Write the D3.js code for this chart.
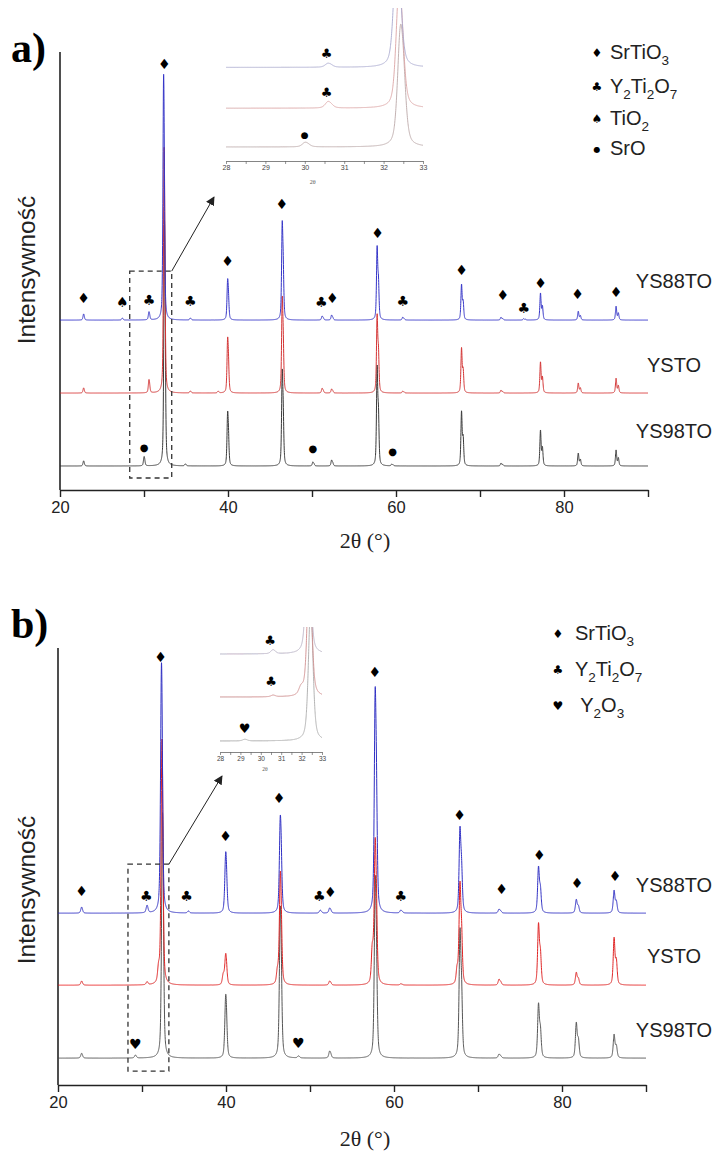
<!DOCTYPE html>
<html><head><meta charset="utf-8">
<script src="https://cdn.jsdelivr.net/npm/d3@7"></script>
<style>body{margin:0;background:#fff}svg{display:block}</style>
</head><body>
<svg id="c" width="714" height="1153"></svg>
<script>
// ---------------- DATA ----------------
const seriesNames = ["YS98TO", "YSTO", "YS88TO"];
const xTicks = [20, 30, 40, 50, 60, 70, 80, 90];
const xTickLabels = [20, 40, 60, 80];
const insetTicks = [28, 29, 30, 31, 32, 33];
const axisTitle = "2θ (°)";
const yTitle = "Intensywność";

// Panel a) reflections: [2θ, intensity (a.u., main = 100)]
const peaksA_YS98TO = [[22.8,2.1],[30.0,3.8],[32.42,100],[34.9,0.8],[39.95,22.5],[46.45,40],[50.1,1.7],[52.33,2.5],[57.75,42],[59.5,0.8],[67.8,23],[72.5,1.2],[77.2,15],[81.7,5.4],[86.2,6.7]];
const peaksA_YSTO   = [[22.8,2.1],[30.58,5.4],[32.38,100],[35.5,0.8],[38.8,0.7],[39.95,23],[46.45,40],[51.2,2],[52.33,1.7],[57.75,33],[60.8,0.8],[67.8,19],[72.5,1.2],[77.2,13],[81.7,4.2],[86.2,6.2]];
const peaksA_YS88TO = [[22.8,2.5],[27.4,0.8],[30.58,3.3],[32.32,100],[35.5,0.8],[39.95,17],[46.45,41],[51.2,1.7],[52.33,2.1],[57.75,31],[60.8,1.2],[67.8,15],[72.5,1.2],[75.2,0.6],[77.2,11.3],[81.7,3.7],[86.2,5.8]];

// Panel b) reflections
const peaksB_YS98TO = [[22.8,2],[29.2,1.2],[32.42,100],[39.95,26],[46.45,62],[48.6,0.8],[52.33,2.9],[57.75,75],[67.85,54],[72.5,1.7],[77.2,23],[81.7,15],[86.2,10]];
const peaksB_YSTO   = [[22.8,1.7],[30.58,1.2],[31.95,5.4],[32.36,100],[39.65,4],[39.95,12.5],[46.1,5],[46.45,46],[52.33,1.7],[57.4,14],[57.75,59],[60.8,0.5],[67.5,6],[67.85,42],[72.5,2.5],[77.2,26],[81.7,5.4],[86.2,20]];
const peaksB_YS88TO = [[22.8,2.5],[30.58,3],[32.3,102],[35.5,0.8],[39.95,25],[46.45,40],[51.2,1.2],[52.33,2.1],[57.75,93],[60.8,1.2],[67.85,36],[72.5,1.7],[77.2,19.6],[81.7,5.8],[86.2,9.6]];

// Phase markers: [2θ, symbol, level (a.u. in stacked plot)]
const markersA = [[22.8,"♦",80],[27.4,"♠",78.3],[30.6,"♣",79.2],[32.4,"♦",177.5],[35.5,"♣",78.7],[39.95,"♦",95.4],[46.4,"♦",119.2],[51.1,"♣",78.3],[52.4,"♦",80],[57.8,"♦",107],[60.8,"♣",78.7],[67.8,"♦",91.7],[72.7,"♦",81.2],[75.2,"♣",75.8],[77.2,"♦",86.2],[81.6,"♦",81.7],[86.2,"♦",82.5],[30.0,"●",17.9],[50.1,"●",17.5],[59.6,"●",16.2]];
const markersB = [[22.8,"♦",80.8],[30.5,"♣",78.7],[32.2,"♦",178.3],[35.3,"♣",78.7],[39.95,"♦",103.7],[46.3,"♦",119.6],[51.1,"♣",78.7],[52.4,"♦",80.4],[57.7,"♦",172],[60.8,"♣",78.7],[67.8,"♦",112.5],[72.8,"♦",81.7],[77.3,"♦",95.8],[81.8,"♦",84.2],[86.3,"♦",87],[29.2,"♥",17.1],[48.6,"♥",17.5]];
const insetMarkersA = [[30.55,"♣",90],[30.55,"♣",57.5],[30.0,"●",21.7]];
const insetMarkersB = [[30.45,"♣",86],[30.5,"♣",54.6],[29.2,"♥",18.5]];

// Legends
const legendA = [["♦",[["SrTiO",""],["3","sub"]]],["♣",[["Y",""],["2","sub"],["Ti",""],["2","sub"],["O",""],["7","sub"]]],["♠",[["TiO",""],["2","sub"]]],["●",[["SrO",""]]]];
const legendB = [["♦",[["SrTiO",""],["3","sub"]]],["♣",[["Y",""],["2","sub"],["Ti",""],["2","sub"],["O",""],["7","sub"]]],["♥",[[" Y",""],["2","sub"],["O",""],["3","sub"]]]];

// ---------------- RENDER ----------------
const svg = d3.select("#c");
const RATIO = 0.002512; // Cu Kα2/Kα1 wavelength split
function pv(dx, w) {
  const q = 4 * dx * dx / (w * w);
  return 0.5 * Math.exp(-Math.LN2 * q) + 0.5 / (1 + q);
}
function profile(peaks, offset, x0, x1, step, w) {
  const pts = [];
  for (let x = x0; x <= x1 + 1e-9; x += step) {
    let y = 0;
    for (const [p, h] of peaks) {
      if (Math.abs(x - p) > 6) continue;
      const d = 2 * Math.tan(p / 2 * Math.PI / 180) * RATIO * 180 / Math.PI;
      const norm = 1 + 0.5 * pv(d, w);
      y += h * (pv(x - p, w) + 0.5 * pv(x - p - d, w)) / norm;
    }
    pts.push([x, y + offset]);
  }
  return pts;
}

function drawPanel(cfg) {
  const g = svg.append("g");
  const x = d3.scaleLinear().domain([20, 90]).range([cfg.left, cfg.left + 588]);
  const y = d3.scaleLinear().domain([0, (cfg.bottom - cfg.top) / 2.4]).range([cfg.bottom, cfg.top]);

  g.append("line").attr("x1", cfg.left).attr("x2", cfg.left).attr("y1", cfg.top).attr("y2", cfg.bottom)
    .attr("stroke", "#222").attr("stroke-width", 1.6);
  const ax = g.append("g").attr("transform", `translate(0,${cfg.bottom})`)
    .call(d3.axisBottom(x).tickValues(xTicks).tickFormat(d => xTickLabels.includes(d) ? d : "").tickSize(7).tickSizeOuter(0).tickPadding(4));
  ax.select(".domain").attr("stroke", "#222").attr("stroke-width", 1.6);
  ax.selectAll(".tick line").attr("stroke", "#222").attr("stroke-width", 1.4);
  ax.selectAll(".tick text").attr("font-family", "Liberation Sans, Arial, sans-serif").attr("font-size", 16.5).attr("fill", "#222");

  const line = d3.line().x(d => x(d[0])).y(d => y(d[1]));
  cfg.series.forEach((s, i) => {
    g.append("path").datum(profile(s, cfg.offsets[i], 20, 90, 0.01, cfg.fwhm))
      .attr("d", line).attr("fill", "none").attr("stroke", cfg.colors[i]).attr("stroke-width", 1);
  });

  seriesNames.forEach((n, i) => {
    g.append("text").attr("x", 674).attr("y", cfg.labelY[i]).attr("text-anchor", "middle")
      .attr("font-family", "Liberation Sans, Arial, sans-serif").attr("font-size", 20).attr("fill", "#222").text(n);
  });

  cfg.markers.forEach(([t, s, lv]) => {
    g.append("text").attr("x", x(t)).attr("y", y(lv)).attr("dy", "0.36em").attr("text-anchor", "middle")
      .attr("font-family", "DejaVu Sans, sans-serif").attr("font-size", s === "●" ? 10 : 14).attr("fill", "#000").text(s);
  });

  const bx0 = x(cfg.box[0]), bx1 = x(cfg.box[1]), by0 = y(cfg.box[3]), by1 = y(cfg.box[2]);
  g.append("rect").attr("x", bx0).attr("y", by0).attr("width", bx1 - bx0).attr("height", by1 - by0)
    .attr("fill", "none").attr("stroke", "#333").attr("stroke-width", 1.3).attr("stroke-dasharray", "5,4");
  g.append("line").attr("x1", bx1).attr("y1", by0).attr("x2", cfg.arrowTo[0]).attr("y2", cfg.arrowTo[1])
    .attr("stroke", "#222").attr("stroke-width", 1).attr("marker-end", "url(#ah)");

  g.append("text").attr("transform", `translate(${cfg.yTitlePos[0]},${cfg.yTitlePos[1]}) rotate(-90)`)
    .attr("text-anchor", "middle").attr("font-family", "Liberation Sans, Arial, sans-serif").attr("font-size", 24.5).attr("fill", "#222").text(yTitle);
  g.append("text").attr("x", 365).attr("y", cfg.xTitleY).attr("text-anchor", "middle")
    .attr("font-family", "Liberation Serif, Times New Roman, serif").attr("font-size", 22).attr("fill", "#222").text(axisTitle);
  g.append("text").attr("x", 11).attr("y", cfg.letterY).attr("font-family", "Liberation Serif, Times New Roman, serif")
    .attr("font-weight", "bold").attr("font-size", 42).attr("fill", "#000").text(cfg.letter);

  cfg.legend.forEach(([sym, parts], i) => {
    const yy = cfg.legendY[i];
    g.append("text").attr("x", cfg.legendX[0]).attr("y", yy - 6).attr("dy", "0.36em").attr("text-anchor", "middle")
      .attr("font-family", "DejaVu Sans, sans-serif").attr("font-size", sym === "●" ? 8 : 12).text(sym);
    const t = g.append("text").attr("x", cfg.legendX[1]).attr("y", yy)
      .attr("font-family", "Liberation Sans, Arial, sans-serif").attr("font-size", 20).attr("fill", "#222").attr("xml:space", "preserve");
    let prevSub = false;
    parts.forEach(([txt, kind]) => {
      const ts = t.append("tspan").text(txt);
      if (kind === "sub") { ts.attr("font-size", 13.5).attr("dy", prevSub ? 0 : 6); prevSub = true; }
      else { if (prevSub) ts.attr("dy", -6); prevSub = false; }
    });
  });

  const ins = cfg.inset;
  const ix = d3.scaleLinear().domain([28, 33]).range([ins.x0, ins.x1]);
  const iy = d3.scaleLinear().domain([0, 1]).range([ins.axisY, ins.axisY - ins.k]);
  const clipId = "clip" + cfg.letter.replace(")", "");
  svg.append("clipPath").attr("id", clipId).append("rect")
    .attr("x", ins.x0).attr("y", ins.top).attr("width", ins.x1 - ins.x0).attr("height", ins.axisY - ins.top);
  const il = d3.line().x(d => ix(d[0])).y(d => iy(d[1]));
  const ig = g.append("g").attr("clip-path", `url(#${clipId})`);
  cfg.series.forEach((s, i) => {
    ig.append("path").datum(profile(s, ins.offsets[i], 28, 33, 0.004, cfg.fwhm))
      .attr("d", il).attr("fill", "none").attr("stroke", ins.colors[i]).attr("stroke-width", 0.9);
  });
  const iax = g.append("g").attr("transform", `translate(0,${ins.axisY})`)
    .call(d3.axisBottom(ix).tickValues(d3.range(28, 33.01, 0.5)).tickFormat(d => Number.isInteger(d) && insetTicks.includes(d) ? d : "").tickSize(3).tickSizeOuter(0).tickPadding(1.5));
  iax.select(".domain").attr("stroke", "#666").attr("stroke-width", 0.8);
  iax.selectAll(".tick line").attr("stroke", "#666").attr("stroke-width", 0.7);
  iax.selectAll(".tick text").attr("font-family", "Liberation Sans, Arial, sans-serif").attr("font-size", ins.fs).attr("fill", "#444");
  g.append("text").attr("x", ix(30.2)).attr("y", ins.titleY).attr("text-anchor", "middle")
    .attr("font-family", "Liberation Serif, serif").attr("font-size", ins.fs - 1).attr("fill", "#555").text("2θ");
  ins.markers.forEach(([t, s, lv]) => {
    g.append("text").attr("x", ix(t)).attr("y", iy(lv)).attr("dy", "0.36em").attr("text-anchor", "middle")
      .attr("font-family", "DejaVu Sans, sans-serif").attr("font-size", s === "●" ? 9 : 13).attr("fill", "#000").text(s);
  });
}

svg.append("defs").append("marker").attr("id", "ah").attr("viewBox", "0 0 10 10").attr("refX", 9).attr("refY", 5)
  .attr("markerWidth", 9).attr("markerHeight", 9).attr("orient", "auto").attr("markerUnits", "userSpaceOnUse")
  .append("path").attr("d", "M0,0 L10,5 L0,10 Z").attr("fill", "#222");

drawPanel({
  letter: "a)", letterY: 62, left: 60, top: 52, bottom: 490, fwhm: 0.17,
  series: [peaksA_YS98TO, peaksA_YSTO, peaksA_YS88TO], offsets: [10, 40.4, 70.8],
  colors: ["#3a3a3a", "#d43535", "#3535c8"],
  labelY: [438, 372, 288], markers: markersA,
  box: [28.3, 33.3, 5, 91.2], arrowTo: [214, 197],
  yTitlePos: [35, 270], xTitleY: 548,
  legend: legendA, legendX: [597, 610], legendY: [59, 93, 125, 155],
  inset: { x0: 226, x1: 423, top: 8, axisY: 161, k: 1.2, offsets: [11.7, 44, 78],
    colors: ["#bba8a8", "#dba4a4", "#a9a9cf"], fs: 7, titleY: 184, markers: insetMarkersA }
});
drawPanel({
  letter: "b)", letterY: 638, left: 58, top: 648, bottom: 1085, fwhm: 0.24,
  series: [peaksB_YS98TO, peaksB_YSTO, peaksB_YS88TO], offsets: [11.2, 41.6, 71.6],
  colors: ["#555555", "#e02424", "#3030c4"],
  labelY: [1037, 963, 892], markers: markersB,
  box: [28.33, 33.2, 5.8, 92], arrowTo: [222, 776],
  yTitlePos: [35, 890], xTitleY: 1146,
  legend: legendB, legendX: [558, 575], legendY: [640, 676, 712],
  inset: { x0: 220, x1: 322, top: 627, axisY: 752, k: 1.3, offsets: [8.5, 42.3, 75.4],
    colors: ["#aaaaaa", "#cf8c8c", "#b6aec2"], fs: 6.5, titleY: 771, markers: insetMarkersB }
});
</script>
</body></html>
